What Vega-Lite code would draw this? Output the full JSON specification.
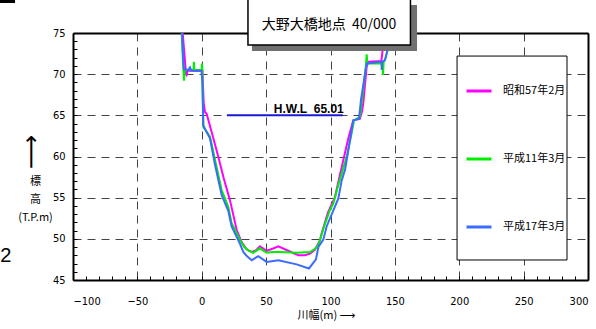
{
  "$schema": "https://vega.github.io/schema/vega-lite/v6.json",
  "width": 515,
  "height": 247,
  "autosize": {"type": "none"},
  "padding": {"left": 73, "top": 33, "right": 8, "bottom": 49},
  "background": "white",
  "config": {"view": {"stroke": null}},
  "datasets": {
    "lines": [
      {"s": "昭和57年2月", "x": -14.8, "y": 75},
      {"s": "昭和57年2月", "x": -12.2, "y": 70.0},
      {"s": "昭和57年2月", "x": -11.8, "y": 69.9},
      {"s": "昭和57年2月", "x": -11.0, "y": 70.4},
      {"s": "昭和57年2月", "x": -5, "y": 70.4},
      {"s": "昭和57年2月", "x": 0.5, "y": 70.4},
      {"s": "昭和57年2月", "x": 1.5, "y": 66.5},
      {"s": "昭和57年2月", "x": 2.5, "y": 65.4},
      {"s": "昭和57年2月", "x": 3.8, "y": 65.2},
      {"s": "昭和57年2月", "x": 8, "y": 62.8},
      {"s": "昭和57年2月", "x": 12.8, "y": 60.0},
      {"s": "昭和57年2月", "x": 17, "y": 57.4},
      {"s": "昭和57年2月", "x": 21.9, "y": 54.7},
      {"s": "昭和57年2月", "x": 27.1, "y": 51.1},
      {"s": "昭和57年2月", "x": 31, "y": 49.6},
      {"s": "昭和57年2月", "x": 35, "y": 48.7},
      {"s": "昭和57年2月", "x": 38.8, "y": 48.4},
      {"s": "昭和57年2月", "x": 42, "y": 48.6},
      {"s": "昭和57年2月", "x": 45.2, "y": 49.1},
      {"s": "昭和57年2月", "x": 50.4, "y": 48.55},
      {"s": "昭和57年2月", "x": 55, "y": 48.8},
      {"s": "昭和57年2月", "x": 59.5, "y": 49.1},
      {"s": "昭和57年2月", "x": 67.2, "y": 48.55},
      {"s": "昭和57年2月", "x": 75, "y": 48.0},
      {"s": "昭和57年2月", "x": 80, "y": 48.0},
      {"s": "昭和57年2月", "x": 84.1, "y": 48.2},
      {"s": "昭和57年2月", "x": 88, "y": 48.7},
      {"s": "昭和57年2月", "x": 91.8, "y": 49.8},
      {"s": "昭和57年2月", "x": 93.2, "y": 50.7},
      {"s": "昭和57年2月", "x": 98, "y": 53.2},
      {"s": "昭和57年2月", "x": 103.5, "y": 55.1},
      {"s": "昭和57年2月", "x": 110, "y": 59.6},
      {"s": "昭和57年2月", "x": 114, "y": 62.3},
      {"s": "昭和57年2月", "x": 117.7, "y": 64.4},
      {"s": "昭和57年2月", "x": 122.9, "y": 64.6},
      {"s": "昭和57年2月", "x": 124.5, "y": 65.5},
      {"s": "昭和57年2月", "x": 125.5, "y": 66.5},
      {"s": "昭和57年2月", "x": 128.1, "y": 70.9},
      {"s": "昭和57年2月", "x": 129.4, "y": 71.5},
      {"s": "昭和57年2月", "x": 139.5, "y": 71.6},
      {"s": "昭和57年2月", "x": 140.5, "y": 72.9},
      {"s": "昭和57年2月", "x": 141.6, "y": 74.55},
      {"s": "昭和57年2月", "x": 141.9, "y": 75},
      {"s": "平成11年3月", "x": -15.6, "y": 75},
      {"s": "平成11年3月", "x": -14.6, "y": 71.5},
      {"s": "平成11年3月", "x": -13.8, "y": 69.2},
      {"s": "平成11年3月", "x": -13.2, "y": 70.5},
      {"s": "平成11年3月", "x": -9.8, "y": 70.5},
      {"s": "平成11年3月", "x": -9.5, "y": 70.9},
      {"s": "平成11年3月", "x": -9.2, "y": 70.5},
      {"s": "平成11年3月", "x": -6.4, "y": 70.5},
      {"s": "平成11年3月", "x": -6.1, "y": 71.5},
      {"s": "平成11年3月", "x": -5.8, "y": 70.5},
      {"s": "平成11年3月", "x": -0.1, "y": 70.5},
      {"s": "平成11年3月", "x": 0.2, "y": 71.3},
      {"s": "平成11年3月", "x": 0.5, "y": 70.5},
      {"s": "平成11年3月", "x": 1.2, "y": 63.6},
      {"s": "平成11年3月", "x": 3, "y": 63.2},
      {"s": "平成11年3月", "x": 6.4, "y": 62.4},
      {"s": "平成11年3月", "x": 10.3, "y": 59.6},
      {"s": "平成11年3月", "x": 15.5, "y": 55.9},
      {"s": "平成11年3月", "x": 20.6, "y": 53.9},
      {"s": "平成11年3月", "x": 23.2, "y": 51.9},
      {"s": "平成11年3月", "x": 29.7, "y": 49.9},
      {"s": "平成11年3月", "x": 33, "y": 49.0},
      {"s": "平成11年3月", "x": 36.2, "y": 48.6},
      {"s": "平成11年3月", "x": 40, "y": 48.3},
      {"s": "平成11年3月", "x": 45.2, "y": 48.85},
      {"s": "平成11年3月", "x": 50.4, "y": 48.3},
      {"s": "平成11年3月", "x": 55, "y": 48.4},
      {"s": "平成11年3月", "x": 60.8, "y": 48.4},
      {"s": "平成11年3月", "x": 73.7, "y": 48.3},
      {"s": "平成11年3月", "x": 84.1, "y": 48.4},
      {"s": "平成11年3月", "x": 88, "y": 48.8},
      {"s": "平成11年3月", "x": 90.6, "y": 49.25},
      {"s": "平成11年3月", "x": 95, "y": 51.5},
      {"s": "平成11年3月", "x": 99.6, "y": 53.5},
      {"s": "平成11年3月", "x": 102.2, "y": 54.3},
      {"s": "平成11年3月", "x": 106, "y": 56.5},
      {"s": "平成11年3月", "x": 112.6, "y": 60.0},
      {"s": "平成11年3月", "x": 116, "y": 62.5},
      {"s": "平成11年3月", "x": 118.3, "y": 64.4},
      {"s": "平成11年3月", "x": 122.9, "y": 64.8},
      {"s": "平成11年3月", "x": 124.2, "y": 66.5},
      {"s": "平成11年3月", "x": 127.6, "y": 71.2},
      {"s": "平成11年3月", "x": 128.1, "y": 72.4},
      {"s": "平成11年3月", "x": 128.6, "y": 71.3},
      {"s": "平成11年3月", "x": 140.4, "y": 71.3},
      {"s": "平成11年3月", "x": 140.8, "y": 69.9},
      {"s": "平成11年3月", "x": 141.3, "y": 71.5},
      {"s": "平成11年3月", "x": 142.3, "y": 71.7},
      {"s": "平成11年3月", "x": 146.2, "y": 74.1},
      {"s": "平成11年3月", "x": 147.1, "y": 75},
      {"s": "平成17年3月", "x": -15.3, "y": 75},
      {"s": "平成17年3月", "x": -14.3, "y": 71.5},
      {"s": "平成17年3月", "x": -13.8, "y": 70.6},
      {"s": "平成17年3月", "x": -10, "y": 70.5},
      {"s": "平成17年3月", "x": -9, "y": 70.8},
      {"s": "平成17年3月", "x": -8, "y": 70.4},
      {"s": "平成17年3月", "x": -0.2, "y": 70.4},
      {"s": "平成17年3月", "x": 0.5, "y": 69},
      {"s": "平成17年3月", "x": 1.2, "y": 63.8},
      {"s": "平成17年3月", "x": 3, "y": 63.2},
      {"s": "平成17年3月", "x": 6.4, "y": 62.2},
      {"s": "平成17年3月", "x": 10.3, "y": 59},
      {"s": "平成17年3月", "x": 15.5, "y": 55.3},
      {"s": "平成17年3月", "x": 20.6, "y": 53.4},
      {"s": "平成17年3月", "x": 23.2, "y": 51.5},
      {"s": "平成17年3月", "x": 29.7, "y": 49.4},
      {"s": "平成17年3月", "x": 32.3, "y": 48.4},
      {"s": "平成17年3月", "x": 35, "y": 47.9},
      {"s": "平成17年3月", "x": 38.8, "y": 47.4},
      {"s": "平成17年3月", "x": 43.9, "y": 47.9},
      {"s": "平成17年3月", "x": 50.4, "y": 47.2},
      {"s": "平成17年3月", "x": 59.5, "y": 47.4},
      {"s": "平成17年3月", "x": 73.7, "y": 46.9},
      {"s": "平成17年3月", "x": 83.3, "y": 46.4},
      {"s": "平成17年3月", "x": 88.7, "y": 47.5},
      {"s": "平成17年3月", "x": 90.6, "y": 49.0},
      {"s": "平成17年3月", "x": 94.4, "y": 49.9},
      {"s": "平成17年3月", "x": 97, "y": 51.5},
      {"s": "平成17年3月", "x": 106.1, "y": 54.9},
      {"s": "平成17年3月", "x": 108.7, "y": 57.1},
      {"s": "平成17年3月", "x": 111.3, "y": 58.4},
      {"s": "平成17年3月", "x": 117.7, "y": 64.4},
      {"s": "平成17年3月", "x": 122.1, "y": 64.55},
      {"s": "平成17年3月", "x": 123.7, "y": 66.9},
      {"s": "平成17年3月", "x": 128.1, "y": 71.3},
      {"s": "平成17年3月", "x": 139.5, "y": 71.5},
      {"s": "平成17年3月", "x": 139.8, "y": 70.5},
      {"s": "平成17年3月", "x": 140.2, "y": 71.5},
      {"s": "平成17年3月", "x": 142.3, "y": 71.7},
      {"s": "平成17年3月", "x": 146.2, "y": 74.1},
      {"s": "平成17年3月", "x": 147.1, "y": 75}
    ],
    "one": [{}]
  },
  "layer": [
    {
      "data": {"name": "lines"},
      "mark": {"type": "line", "strokeWidth": 2},
      "encoding": {
        "x": {
          "field": "x", "type": "quantitative",
          "scale": {"domain": [-100, 300], "nice": false, "zero": false},
          "axis": {
            "orient": "bottom",
            "values": [-100, -50, 0, 50, 100, 150, 200, 250, 300],
            "grid": true, "gridDash": [8, 6], "gridColor": "#444", "gridWidth": 1, "gridOpacity": 1,
            "ticks": false, "domain": true, "domainColor": "black", "domainWidth": 2,
            "labelPadding": 15, "labelFontSize": 11, "labelColor": "black",
            "labelFont": "Liberation Sans Narrow, DejaVu Sans Condensed, Liberation Sans",
            "title": "川幅(m) ⟶", "titleFont": "Noto Sans CJK JP, DejaVu Sans", "titleFontSize": 11,
            "titleFontWeight": "normal", "titleColor": "black",
            "titleX": 253, "titleY": 35, "titleBaseline": "middle", "titleAlign": "center"
          }
        },
        "y": {
          "field": "y", "type": "quantitative",
          "scale": {"domain": [45, 75], "nice": false, "zero": false},
          "axis": {
            "orient": "left",
            "values": [45, 50, 55, 60, 65, 70, 75],
            "grid": true, "gridDash": [8, 6], "gridColor": "#444", "gridWidth": 1, "gridOpacity": 1,
            "ticks": false, "domain": true, "domainColor": "black", "domainWidth": 2,
            "labelPadding": 8, "labelFontSize": 11, "labelColor": "black",
            "labelFont": "Liberation Sans Narrow, DejaVu Sans Condensed, Liberation Sans",
            "title": ["標", "高", "(T.P.m)"], "titleFont": "Noto Sans CJK JP", "titleFontSize": 11,
            "titleFontWeight": "normal", "titleColor": "black", "titleAngle": 0,
            "titleX": -38, "titleY": 142, "titleAlign": "center", "titleBaseline": "top", "titleLineHeight": 18
          }
        },
        "color": {
          "field": "s", "type": "nominal",
          "scale": {"domain": ["昭和57年2月", "平成11年3月", "平成17年3月"], "range": ["#ff00ff", "#00ee00", "#3a6cff"]},
          "legend": {
            "title": null, "orient": "none", "legendX": 392, "legendY": 44, "padding": 0,
            "symbolType": "stroke", "symbolSize": 625, "symbolStrokeWidth": 3,
            "labelFont": "Noto Sans CJK JP", "labelFontSize": 11, "labelColor": "black", "labelOffset": 10,
            "rowPadding": 48, "zindex": 1
          }
        }
      }
    },
    {
      "data": {"name": "one"},
      "mark": {"type": "rule", "color": "#1a1ad6", "strokeWidth": 2},
      "encoding": {
        "x": {
          "datum": 19.5, "type": "quantitative",
          "scale": {"domain": [-100, 300], "nice": false, "zero": false},
          "axis": {
            "orient": "bottom",
            "values": [-100, -90, -80, -70, -60, -50, -40, -30, -20, -10, 0, 10, 20, 30, 40, 50, 60, 70, 80, 90, 100, 110, 120, 130, 140, 150, 160, 170, 180, 190, 200, 210, 220, 230, 240, 250, 260, 270, 280, 290, 300],
            "ticks": true, "tickSize": -4, "tickColor": "black", "tickWidth": 1,
            "labels": false, "domain": false, "grid": false, "title": null
          }
        },
        "x2": {"datum": 109.5},
        "y": {
          "datum": 65.0, "type": "quantitative",
          "scale": {"domain": [45, 75], "nice": false, "zero": false},
          "axis": {
            "orient": "left",
            "values": [45, 46, 47, 48, 49, 50, 51, 52, 53, 54, 55, 56, 57, 58, 59, 60, 61, 62, 63, 64, 65, 66, 67, 68, 69, 70, 71, 72, 73, 74, 75],
            "ticks": true, "tickSize": -4, "tickColor": "black", "tickWidth": 1,
            "labels": false, "domain": false, "grid": false, "title": null
          }
        }
      }
    },
    {
      "data": {"name": "one"},
      "mark": {"type": "rect", "fill": "white", "stroke": "black", "strokeWidth": 1},
      "encoding": {
        "x": {
          "datum": 198.3, "type": "quantitative",
          "scale": {"domain": [-100, 300], "nice": false, "zero": false},
          "axis": {"orient": "top", "domain": true, "domainColor": "black", "domainWidth": 2, "ticks": false, "labels": false, "grid": false, "title": null}
        },
        "x2": {"datum": 283.7},
        "y": {
          "datum": 72.2, "type": "quantitative",
          "scale": {"domain": [45, 75], "nice": false, "zero": false},
          "axis": {"orient": "right", "domain": true, "domainColor": "black", "domainWidth": 2, "ticks": false, "labels": false, "grid": false, "title": null}
        },
        "y2": {"datum": 47.43}
      }
    },
    {
      "data": {"name": "one"},
      "mark": {"type": "rect", "fill": "#707070"},
      "encoding": {
        "x": {"datum": 39.0, "type": "quantitative", "scale": {"domain": [-100, 300], "nice": false, "zero": false}, "axis": null},
        "x2": {"datum": 167.2},
        "y": {"datum": 78.4, "type": "quantitative", "scale": {"domain": [45, 75], "nice": false, "zero": false}, "axis": null},
        "y2": {"datum": 72.81}
      }
    },
    {
      "data": {"name": "one"},
      "mark": {"type": "rect", "fill": "white", "stroke": "black", "strokeWidth": 1.5},
      "encoding": {
        "x": {"datum": 35.9, "type": "quantitative", "scale": {"domain": [-100, 300], "nice": false, "zero": false}, "axis": null},
        "x2": {"datum": 162.1},
        "y": {"datum": 79.4, "type": "quantitative", "scale": {"domain": [45, 75], "nice": false, "zero": false}, "axis": null},
        "y2": {"datum": 73.54}
      }
    },
    {
      "data": {"name": "one"},
      "mark": {"type": "text", "text": "大野大橋地点\u00a0\u00a040/000", "font": "Noto Sans CJK JP", "fontSize": 14, "color": "black", "align": "center", "baseline": "middle"},
      "encoding": {
        "x": {"datum": 98.9, "type": "quantitative", "scale": {"domain": [-100, 300], "nice": false, "zero": false}, "axis": null},
        "y": {"datum": 75.95, "type": "quantitative", "scale": {"domain": [45, 75], "nice": false, "zero": false}, "axis": null}
      }
    },
    {
      "data": {"name": "one"},
      "mark": {"type": "text", "text": "H.W.L\u00a0\u00a065.01", "font": "Liberation Sans", "fontWeight": "bold", "fontSize": 12, "color": "black", "align": "center", "baseline": "alphabetic"},
      "encoding": {
        "x": {"datum": 83.1, "type": "quantitative", "scale": {"domain": [-100, 300], "nice": false, "zero": false}, "axis": null},
        "y": {"datum": 65.32, "type": "quantitative", "scale": {"domain": [45, 75], "nice": false, "zero": false}, "axis": null}
      }
    },
    {
      "data": {"name": "one"},
      "mark": {"type": "text", "text": "2", "font": "Liberation Sans", "fontSize": 20, "color": "black", "align": "center", "baseline": "middle"},
      "encoding": {
        "x": {"datum": -152.1, "type": "quantitative", "scale": {"domain": [-100, 300], "nice": false, "zero": false}, "axis": null},
        "y": {"datum": 47.97, "type": "quantitative", "scale": {"domain": [45, 75], "nice": false, "zero": false}, "axis": null}
      }
    },
    {
      "data": {"name": "one"},
      "mark": {"type": "text", "text": "⟶", "font": "DejaVu Sans", "fontSize": 24, "color": "black", "align": "center", "baseline": "middle", "angle": 270},
      "encoding": {
        "x": {"datum": -131.6, "type": "quantitative", "scale": {"domain": [-100, 300], "nice": false, "zero": false}, "axis": null},
        "y": {"datum": 60.58, "type": "quantitative", "scale": {"domain": [45, 75], "nice": false, "zero": false}, "axis": null}
      }
    },
    {
      "data": {"name": "one"},
      "mark": {"type": "rect", "fill": "black"},
      "encoding": {
        "x": {"datum": -156.7, "type": "quantitative", "scale": {"domain": [-100, 300], "nice": false, "zero": false}, "axis": null},
        "x2": {"datum": -145.0},
        "y": {"datum": 79.1, "type": "quantitative", "scale": {"domain": [45, 75], "nice": false, "zero": false}, "axis": null},
        "y2": {"datum": 78.64}
      }
    }
  ],
  "resolve": {"axis": {"x": "independent", "y": "independent"}}
}
